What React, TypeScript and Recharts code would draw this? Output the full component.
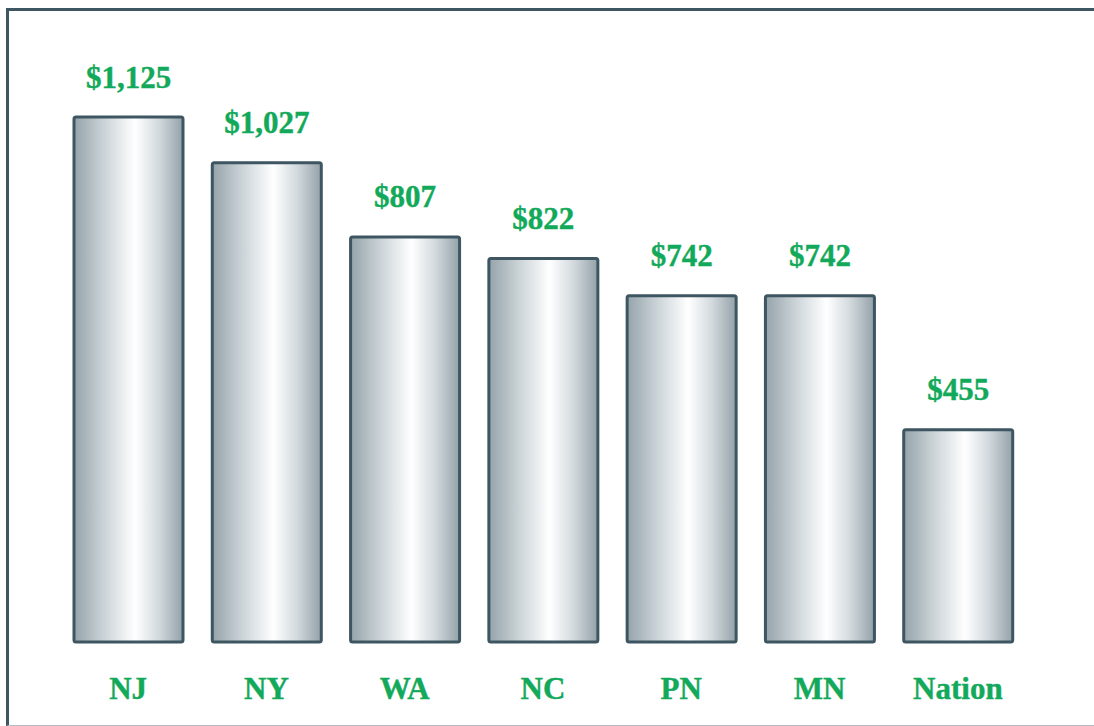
import React from "react";
import { Bar, BarChart, LabelList, XAxis, YAxis } from "recharts";

const states = ["NJ", "NY", "WA", "NC", "PN", "MN", "Nation"];
// bar heights as drawn in the picture
const costs = [1125, 1027, 868, 822, 742, 742, 455];
// value labels as printed above the bars
const costLabels = ["$1,125", "$1,027", "$807", "$822", "$742", "$742", "$455"];

const data = states.map((name, i) => ({ name, cost: costs[i] }));

const GREEN = "#12a95a";
const SLATE = "#3d5661";
const FONT = "'Liberation Serif', 'Times New Roman', serif";

function CategoryTick(props: any) {
  const { x, y, payload } = props;
  return (
    <text
      x={x}
      y={y + 46}
      textAnchor="middle"
      dominantBaseline="central"
      fill={GREEN}
      fontFamily={FONT}
      fontWeight={700}
      fontSize={31}
      stroke={GREEN}
      strokeWidth={0.4}
    >
      {payload.value}
    </text>
  );
}

function ValueLabel(props: any) {
  const { x, y, width, index } = props;
  return (
    <text
      x={x + width / 2}
      y={y - 40}
      textAnchor="middle"
      dominantBaseline="central"
      fill={GREEN}
      fontFamily={FONT}
      fontWeight={700}
      fontSize={31}
      stroke={GREEN}
      strokeWidth={0.4}
    >
      {costLabels[index]}
    </text>
  );
}

export default function App() {
  return (
    <div
      style={{
        position: "absolute",
        left: 0,
        top: 0,
        width: 1094,
        height: 726,
        overflow: "hidden",
        background: "#fff",
      }}
    >
      <div
        style={{
          position: "absolute",
          left: 6,
          top: 8,
          width: 1100,
          height: 714,
          borderTop: `3px solid ${SLATE}`,
          borderLeft: `3px solid ${SLATE}`,
          borderBottom: "1px solid #b4bcc0",
        }}
      />
      <div style={{ position: "absolute", left: 0, top: 0 }}>
        <BarChart
          width={1094}
          height={726}
          data={data}
          margin={{ top: 82, right: 67, left: 59, bottom: 0 }}
        >
          <defs>
            <linearGradient id="metal" x1="0" y1="0" x2="1" y2="0">
              <stop offset="0%" stopColor="#95a3aa" />
              <stop offset="28%" stopColor="#ccd4d8" />
              <stop offset="56%" stopColor="#ffffff" />
              <stop offset="78%" stopColor="#d2d9dd" />
              <stop offset="100%" stopColor="#93a1a8" />
            </linearGradient>
          </defs>
          <XAxis
            dataKey="name"
            height={84}
            axisLine={false}
            tickLine={false}
            tickSize={0}
            tickMargin={0}
            interval={0}
            tick={<CategoryTick />}
          />
          <YAxis hide domain={[0, 1200]} width={0} />
          <Bar
            dataKey="cost"
            barSize={109}
            fill="url(#metal)"
            stroke={SLATE}
            strokeWidth={3}
            radius={2}
            isAnimationActive={false}
          >
            <LabelList dataKey="cost" content={<ValueLabel />} />
          </Bar>
        </BarChart>
      </div>
    </div>
  );
}
